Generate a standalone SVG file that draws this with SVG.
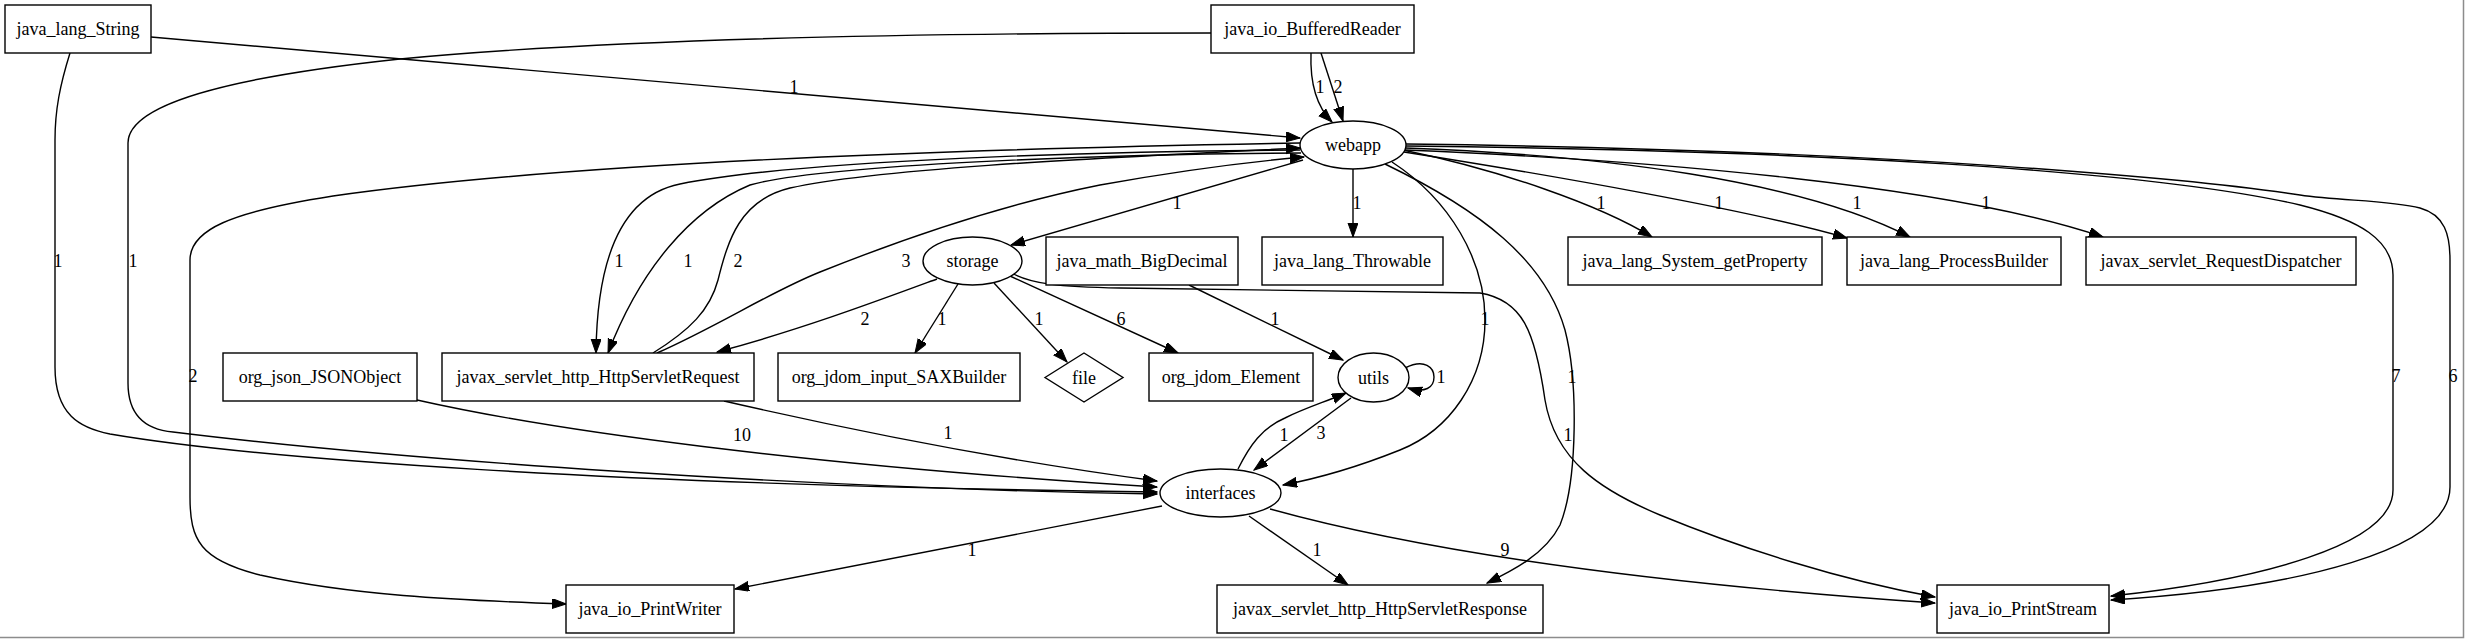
<svg xmlns="http://www.w3.org/2000/svg" width="2465" height="639" viewBox="0 0 2465 639">
<style>
  .n rect, .n ellipse, .n polygon { fill: #fff; stroke: #000; stroke-width: 1.4; }
  .n text { font-family: "Liberation Serif", "Times New Roman", serif; font-size: 18px; text-anchor: middle; fill: #000; }
  .e path { fill: none; stroke: #000; stroke-width: 1.4; marker-end: url(#ah); }
  .e path.nh { marker-end: none; }
  .lbl text { font-family: "Liberation Serif", "Times New Roman", serif; font-size: 18px; text-anchor: middle; fill: #000; }
</style>
<defs>
  <marker id="ah" markerUnits="userSpaceOnUse" markerWidth="15" markerHeight="11" refX="14" refY="5" orient="auto">
    <path d="M0,0 L14,5 L0,10 Z" fill="#000" stroke="#000" stroke-width="1"/>
  </marker>
</defs>
<rect x="0" y="0" width="2465" height="639" fill="#fff"/>
<path d="M2463.5,0 V637.5 H0" fill="none" stroke="#8c8c8c" stroke-width="1.5"/>

<g id="connectors" class="e">
  <path d="M151,37 L1300,138"/>
  <path d="M70,53 C60,85 55,110 55,140 L55,367 C55,415 80,428 110,434 C250,458 600,485 1157,492"/>
  <path d="M1211,33 C900,33 600,40 400,59 C250,75 128,100 128,143 L128,383 C128,420 150,430 173,432 C400,460 800,488 1157,494"/>
  <path d="M1311,53 C1310,80 1315,105 1332,122"/>
  <path d="M1321,53 L1343,121"/>
  <path d="M1300,143 C900,150 550,165 333,196 C230,212 190,230 190,260 L190,497 C190,540 200,560 260,575 C350,595 450,600 566,604"/>
  <path d="M1300,150 C1100,151 800,160 680,184 C620,196 597,260 596,353"/>
  <path d="M1301,153 C1100,154 820,165 750,185 C690,210 640,270 608,353"/>
  <path d="M653,353 C690,330 710,310 718,280 C728,240 740,200 790,188 C880,168 1100,158 1300,148"/>
  <path d="M657,353 C720,325 770,292 820,272 C900,240 1000,205 1100,185 C1200,167 1270,160 1304,157"/>
  <path d="M1303,160 L1011,245"/>
  <path d="M1353,169 L1353,237"/>
  <path d="M1403,150 C1500,170 1600,205 1652,237"/>
  <path d="M1404,152 C1550,175 1750,210 1847,238"/>
  <path d="M1405,148 C1600,155 1800,180 1910,237"/>
  <path d="M1405,150 C1650,160 1950,185 2103,237"/>
  <path d="M1406,146 C1800,150 2150,170 2300,205 C2360,220 2393,240 2393,275 L2393,490 C2393,545 2260,580 2111,596"/>
  <path d="M1406,144 C1900,150 2200,180 2300,195 C2340,201 2390,200 2420,208 C2445,215 2450,235 2450,260 L2450,487 C2450,550 2300,588 2111,600"/>
  <path d="M1392,162 C1450,200 1485,260 1485,320 C1485,380 1450,430 1400,450 C1360,466 1320,478 1283,485"/>
  <path d="M1385,164 C1480,210 1545,260 1565,330 C1578,380 1578,480 1560,525 C1545,555 1510,572 1487,583"/>
  <path d="M958,284 L915,353"/>
  <path d="M994,283 L1067,362"/>
  <path d="M1010,276 L1178,353"/>
  <path d="M937,279 C880,300 800,330 717,352"/>
  <path d="M1010,272 C1030,284 1060,287 1120,288 L1480,293 C1522,300 1535,330 1545,400 C1555,460 1600,490 1660,515 C1740,548 1840,580 1935,597"/>
  <path d="M1189,285 L1343,360"/>
  <path d="M1405,368 C1425,358 1434,368 1434,377 C1434,388 1425,393 1408,388"/>
  <path d="M1351,398 L1254,470"/>
  <path d="M1238,469 C1250,445 1262,428 1285,418 C1305,408 1325,402 1346,393"/>
  <path d="M724,401 C850,430 1000,460 1157,481"/>
  <path d="M417,400 C550,430 800,465 1157,487"/>
  <path d="M1162,506 L735,589"/>
  <path d="M1249,516 L1348,585"/>
  <path d="M1270,509 C1400,545 1600,580 1935,603"/>
</g>

<g id="edge-labels" class="lbl">
  <text x="794" y="93">1</text>
  <text x="58" y="267">1</text>
  <text x="133" y="267">1</text>
  <text x="1320" y="93">1</text>
  <text x="1338" y="93">2</text>
  <text x="193" y="382">2</text>
  <text x="619" y="267">1</text>
  <text x="688" y="267">1</text>
  <text x="738" y="267">2</text>
  <text x="906" y="267">3</text>
  <text x="865" y="325">2</text>
  <text x="942" y="325">1</text>
  <text x="1039" y="325">1</text>
  <text x="1121" y="325">6</text>
  <text x="1275" y="325">1</text>
  <text x="1485" y="325">1</text>
  <text x="1177" y="209">1</text>
  <text x="1357" y="209">1</text>
  <text x="1601" y="209">1</text>
  <text x="1719" y="209">1</text>
  <text x="1857" y="209">1</text>
  <text x="1986" y="209">1</text>
  <text x="1572" y="383">1</text>
  <text x="1441" y="383">1</text>
  <text x="2396" y="382">7</text>
  <text x="2453" y="382">6</text>
  <text x="1568" y="441">1</text>
  <text x="948" y="439">1</text>
  <text x="742" y="441">10</text>
  <text x="1284" y="441">1</text>
  <text x="1321" y="439">3</text>
  <text x="972" y="556">1</text>
  <text x="1317" y="556">1</text>
  <text x="1505" y="556">9</text>
</g>

<g id="java_lang_String" class="n"><rect x="5" y="5" width="146" height="48"/><text x="78" y="35">java_lang_String</text></g>
<g id="java_io_BufferedReader" class="n"><rect x="1211" y="5" width="203" height="48"/><text x="1312.5" y="35">java_io_BufferedReader</text></g>
<g id="webapp" class="n"><ellipse cx="1353" cy="145" rx="53" ry="24"/><text x="1353" y="151">webapp</text></g>
<g id="storage" class="n"><ellipse cx="972.5" cy="261" rx="49.5" ry="24"/><text x="972.5" y="267">storage</text></g>
<g id="java_math_BigDecimal" class="n"><rect x="1046" y="237" width="192" height="48"/><text x="1142" y="267">java_math_BigDecimal</text></g>
<g id="java_lang_Throwable" class="n"><rect x="1262" y="237" width="181" height="48"/><text x="1352.5" y="267">java_lang_Throwable</text></g>
<g id="java_lang_System_getProperty" class="n"><rect x="1568" y="237" width="254" height="48"/><text x="1695" y="267">java_lang_System_getProperty</text></g>
<g id="java_lang_ProcessBuilder" class="n"><rect x="1847" y="237" width="214" height="48"/><text x="1954" y="267">java_lang_ProcessBuilder</text></g>
<g id="javax_servlet_RequestDispatcher" class="n"><rect x="2086" y="237" width="270" height="48"/><text x="2221" y="267">javax_servlet_RequestDispatcher</text></g>
<g id="org_json_JSONObject" class="n"><rect x="223" y="353" width="194" height="48"/><text x="320" y="383">org_json_JSONObject</text></g>
<g id="javax_servlet_http_HttpServletRequest" class="n"><rect x="442" y="353" width="312" height="48"/><text x="598" y="383">javax_servlet_http_HttpServletRequest</text></g>
<g id="org_jdom_input_SAXBuilder" class="n"><rect x="778" y="353" width="242" height="48"/><text x="899" y="383">org_jdom_input_SAXBuilder</text></g>
<g id="file" class="n"><polygon points="1045,377.5 1084,353 1123,377.5 1084,402"/><text x="1084" y="383.5">file</text></g>
<g id="org_jdom_Element" class="n"><rect x="1149" y="353" width="164" height="48"/><text x="1231" y="383">org_jdom_Element</text></g>
<g id="utils" class="n"><ellipse cx="1373.5" cy="377.5" rx="35.5" ry="24.5"/><text x="1373.5" y="383.5">utils</text></g>
<g id="interfaces" class="n"><ellipse cx="1220.5" cy="493" rx="60.5" ry="24"/><text x="1220.5" y="499">interfaces</text></g>
<g id="java_io_PrintWriter" class="n"><rect x="566" y="585" width="168" height="48"/><text x="650" y="615">java_io_PrintWriter</text></g>
<g id="javax_servlet_http_HttpServletResponse" class="n"><rect x="1217" y="585" width="326" height="48"/><text x="1380" y="615">javax_servlet_http_HttpServletResponse</text></g>
<g id="java_io_PrintStream" class="n"><rect x="1937" y="585" width="172" height="48"/><text x="2023" y="615">java_io_PrintStream</text></g>
</svg>
